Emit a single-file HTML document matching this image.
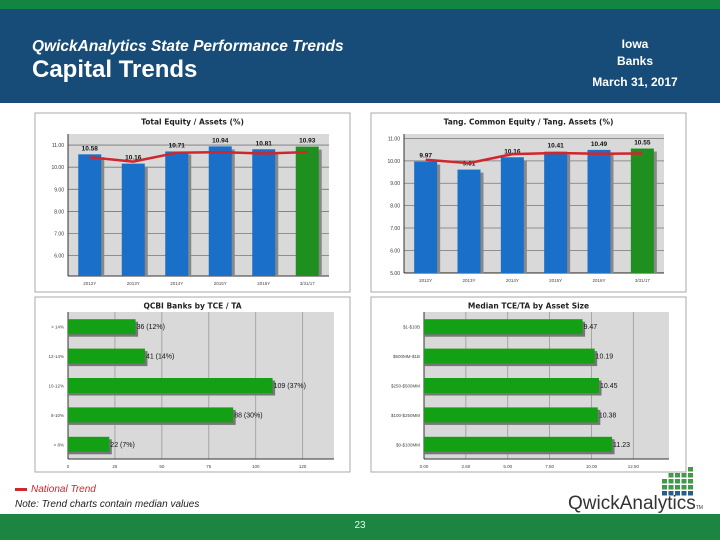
<!DOCTYPE html>
<html><head><meta charset="utf-8"><style>
body{margin:0;width:720px;height:540px;position:relative;background:#fff;font-family:"Liberation Sans",sans-serif;overflow:hidden}
.abs{position:absolute}
</style></head><body>
<div class="abs" style="left:0;top:0;width:720px;height:9px;background:#128540"></div>
<div class="abs" style="left:0;top:9px;width:720px;height:94px;background:#174c78"></div>
<div class="abs" style="left:32px;top:38px;color:#fff;font-size:15.5px;font-style:italic;font-weight:bold">QwickAnalytics State Performance Trends</div>
<div class="abs" style="left:32px;top:56px;color:#fff;font-size:24px;font-weight:bold">Capital Trends</div>
<div class="abs" style="left:560px;top:36px;width:150px;text-align:center;color:#fff;font-size:12px;font-weight:bold;line-height:17px">Iowa<br>Banks<br><span style="line-height:24px">March 31, 2017</span></div>
<svg class="abs" style="left:0;top:0" width="720" height="540" id="svg"></svg>
<div class="abs" style="left:15px;top:484px;color:#d0262d;font-size:10px;font-style:italic"><span style="display:inline-block;width:12px;height:3px;background:#d0262d;vertical-align:middle;margin-right:4px"></span>National Trend</div>
<div class="abs" style="left:15px;top:499px;color:#222;font-size:10px;font-style:italic">Note: Trend charts contain median values</div>
<div class="abs" style="left:568px;top:493px;color:#333;font-size:19px">QwickAnalytics<span style="font-size:5px">TM</span></div>
<div class="abs" style="left:0;top:514px;width:720px;height:26px;background:#1b8541"></div>
<div class="abs" style="left:0;top:520px;width:720px;text-align:center;color:#dfe;font-size:10px">23</div>
<script>
const c1Cats=["2012Y","2013Y","2014Y","2015Y","2016Y","3/31/17"];
const c1Vals=[10.58,10.16,10.71,10.94,10.81,10.93];
const c1Trend=[10.45,10.25,10.65,10.68,10.62,10.68];
const c1Ticks=[6,7,8,9,10,11];
const c2Vals=[9.97,9.61,10.16,10.41,10.49,10.55];
const c2Trend=[10.05,9.9,10.3,10.35,10.32,10.33];
const c2Ticks=[5,6,7,8,9,10,11];
const c3Cats=["> 14%","12-14%","10-12%","8-10%","< 8%"];
const c3Vals=[36,41,109,88,22];
const c3Labels=["36 (12%)","41 (14%)","109 (37%)","88 (30%)","22 (7%)"];
const c3Ticks=[0,25,50,75,100,125];
const c4Cats=["$1-$10B","$500MM-$1B","$250-$500MM","$100-$250MM","$0-$100MM"];
const c4Vals=[9.47,10.19,10.45,10.38,11.23];
const c4Ticks=[0,2.5,5,7.5,10,12.5];
const svg=document.getElementById('svg');
const NS="http://www.w3.org/2000/svg";
function mk(t,a,p,txt){const e=document.createElementNS(NS,t);for(const k in a)e.setAttribute(k,a[k]);if(txt!==undefined)e.textContent=txt;(p||svg).appendChild(e);return e;}
function panel(x,y,w,h,title,name){
 const g=mk('g',{});
 
 
 mk('rect',{x:x,y:y,width:w,height:h,fill:'#fff',stroke:'#aaa','stroke-width':1},g);
 const t=mk('text',{x:x+w/2,y:y+11.5,'text-anchor':'middle','font-size':7.5,'font-weight':'bold',fill:'#222','font-family':'DejaVu Sans'},g,title);
 
 
 return g;}
function vchart(g,px0,px1,py0,py1,ymin,ymax,cats,vals,trend,ticks){
 const Y=v=>py1-(v-ymin)/(ymax-ymin)*(py1-py0);
 const bw=(px1-px0)/cats.length;const X=i=>px0+bw*(i+0.5);
 mk('rect',{x:px0,y:py0,width:px1-px0,height:py1-py0,fill:'#d9d9d9'},g);
 ticks.forEach(t=>{mk('line',{x1:px0,x2:px1,y1:Y(t),y2:Y(t),stroke:'#777','stroke-width':0.8},g);
  const l=mk('text',{x:px0-4,y:Y(t)+2,'text-anchor':'end','font-size':5,fill:'#333'},g,t.toFixed(2));
  });
 mk('line',{x1:px0,x2:px0,y1:py0,y2:py1,stroke:'#333'},g);
 mk('line',{x1:px0,x2:px1,y1:py1,y2:py1,stroke:'#333'},g);
 vals.forEach((v,i)=>{const w=23;
  mk('rect',{x:X(i)-w/2+3,y:Y(v)+3,width:w,height:py1-Y(v)-3,fill:'#888'},g);
  const b=mk('rect',{x:X(i)-w/2,y:Y(v),width:w,height:py1-Y(v),fill:i==vals.length-1?'#1f8f1f':'#1a6fc9'},g);
  
  const l=mk('text',{x:X(i),y:Y(v)-4,'text-anchor':'middle','font-size':6.5,'font-weight':'bold',fill:'#111'},g,v.toFixed(2));
  
  const c=mk('text',{x:X(i),y:py1+9,'text-anchor':'middle','font-size':4.5,fill:'#444'},g,cats[i]);
  });
 const p=mk('polyline',{points:trend.map((v,i)=>X(i)+','+Y(v)).join(' '),fill:'none',stroke:'#d0262d','stroke-width':2.5},g);
 }
function hchart(g,px0,px1,py0,py1,xmax,cats,vals,labels,ticks,fmt){
 const X=v=>px0+v/xmax*(px1-px0);const bh=(py1-py0)/cats.length;const Y=i=>py0+bh*(i+0.5);
 mk('rect',{x:px0,y:py0,width:px1-px0,height:py1-py0,fill:'#d9d9d9'},g);
 ticks.forEach(t=>{mk('line',{x1:X(t),x2:X(t),y1:py0,y2:py1,stroke:'#999','stroke-width':0.8},g);
  const l=mk('text',{x:X(t),y:py1+9,'text-anchor':'middle','font-size':4.5,fill:'#444'},g,fmt(t));
  });
 mk('line',{x1:px0,x2:px0,y1:py0,y2:py1,stroke:'#333'},g);
 mk('line',{x1:px0,x2:px1,y1:py1,y2:py1,stroke:'#333'},g);
 vals.forEach((v,i)=>{const h=15;
  mk('rect',{x:px0,y:Y(i)-h/2+2.5,width:X(v)-px0+2.5,height:h,fill:'#777'},g);
  const b=mk('rect',{x:px0,y:Y(i)-h/2,width:X(v)-px0,height:h,fill:'#14a014'},g);
  
  const l=mk('text',{x:X(v)+1,y:Y(i)+2.5,'font-size':7,fill:'#111'},g,labels[i]);
  
  const c=mk('text',{x:px0-4,y:Y(i)+2,'text-anchor':'end','font-size':4.5,fill:'#444'},g,cats[i]);
  });}
const g1=panel(35,113,315,179,'Total Equity / Assets (%)','chart-total-equity');
vchart(g1,68,329,134,276,5.08,11.5,c1Cats,c1Vals,c1Trend,c1Ticks);
const g2=panel(371,113,315,179,'Tang. Common Equity / Tang. Assets (%)','chart-tce-ta');
vchart(g2,404,664,134,273,4.99,11.2,c1Cats,c2Vals,c2Trend,c2Ticks);
const g3=panel(35,297,315,175,'QCBI Banks by TCE / TA','chart-banks-by-tce');
hchart(g3,68,334,312,459,141.7,c3Cats,c3Vals,c3Labels,c3Ticks,t=>String(t));
const g4=panel(371,297,315,175,'Median TCE/TA by Asset Size','chart-median-by-size');
hchart(g4,424,669,312,459,14.63,c4Cats,c4Vals,c4Vals.map(v=>v.toFixed(2)),c4Ticks,t=>t.toFixed(2));
const lg=mk('g',{});


const cols=[[0,3],[1,4],[2,4],[3,4],[4,5]];
cols.forEach(([ci,n])=>{for(let r=0;r<n;r++){mk('rect',{x:662+ci*6.5,y:491-r*6,width:5,height:4.5,fill:r<1?'#2a5c8a':'#3f9a4a'},lg);}});
</script>
</body></html>
